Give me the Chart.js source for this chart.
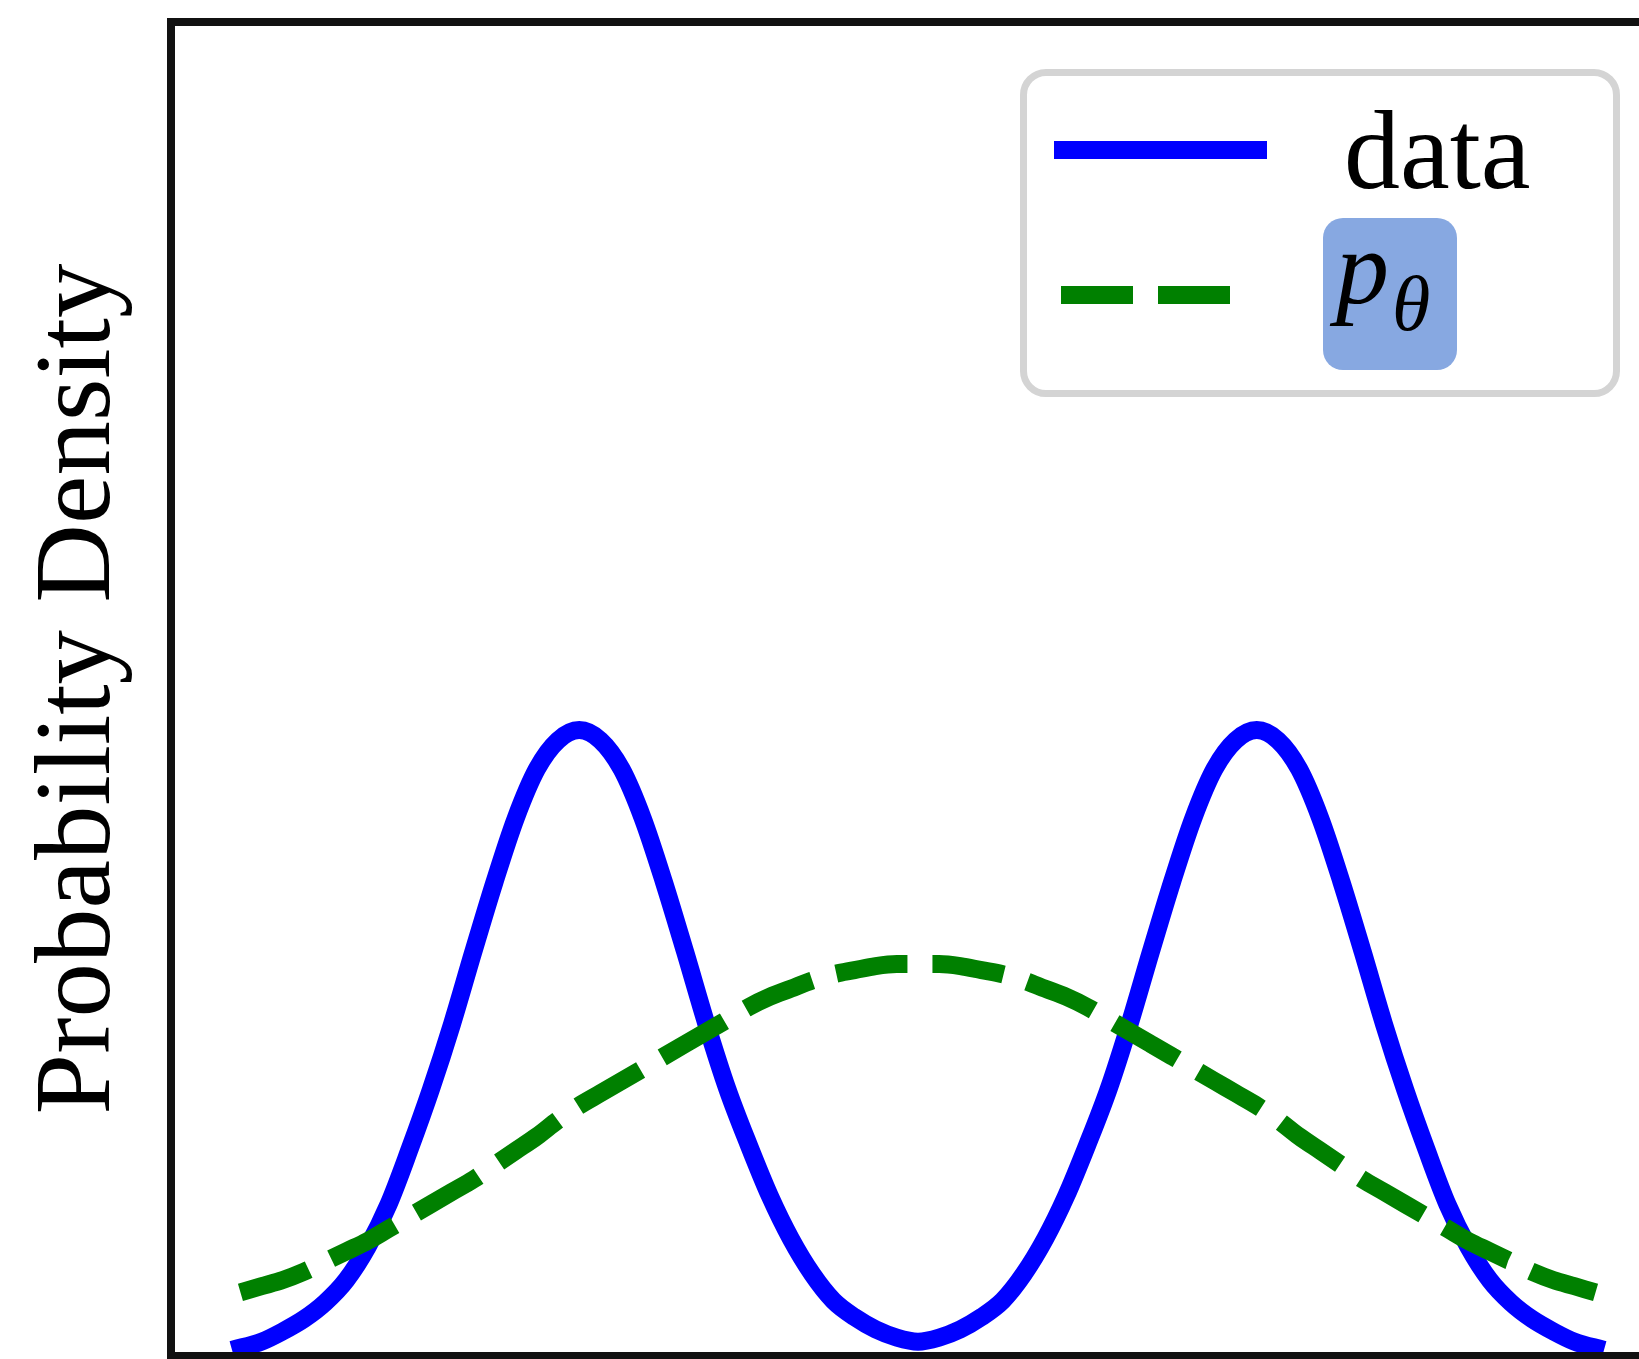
<!DOCTYPE html>
<html>
<head>
<meta charset="utf-8">
<script src="https://cdn.jsdelivr.net/npm/chart.js@4"></script>
<style>
  html, body { margin: 0; padding: 0; background: #fff; overflow: hidden; }
  #wrap { position: relative; width: 1639px; height: 1359px; overflow: hidden; }
  #myChart { position: absolute; left: 0; top: 0; }
  .legend {
    position: absolute; left: 1020px; top: 69px; width: 600px; height: 328px;
    box-sizing: border-box; border: 7px solid #d4d4d4; border-radius: 26px;
    background: #fff; font-family: "Liberation Serif", "DejaVu Serif", serif; color: #000;
  }
  .legend .line { position: absolute; height: 18px; }
  .legend .solid { left: 27px; top: 65px; width: 213px; background: #0000ff; }
  .legend .dash { left: 34px; top: 210px; width: 169px;
    background: repeating-linear-gradient(90deg, #008000 0 72px, transparent 72px 97px); }
  .legend .lbl { position: absolute; left: 317px; top: 18px; font-size: 112px; line-height: 1; }
  .legend .box { position: absolute; left: 296px; top: 142px; width: 134px; height: 152px;
    background: #87a8e1; border-radius: 20px; }
  .legend .p { position: absolute; left: 13px; top: -3px; font-size: 106px; line-height: 1; font-style: italic; }
  .legend .th { position: absolute; left: 69px; top: 47px; font-size: 78px; line-height: 1; font-style: italic; }
</style>
</head>
<body>
<div id="wrap">
  <canvas id="myChart" width="1700" height="1400"></canvas>
  <div class="legend">
    <div class="line solid"></div>
    <div class="lbl">data</div>
    <div class="line dash"></div>
    <div class="box"><span class="p">p</span><span class="th">θ</span></div>
  </div>
</div>
<script>
// sample positions for the dashed p_theta curve
const xs = [-4, -3.875, -3.75, -3.625, -3.5, -3.375, -3.25, -3.125, -3, -2.875, -2.75, -2.625, -2.5, -2.375, -2.25, -2.125,
  -2, -1.875, -1.75, -1.625, -1.5, -1.375, -1.25, -1.125, -1, -0.875, -0.75, -0.625, -0.5, -0.375, -0.25, -0.125,
  0, 0.125, 0.25, 0.375, 0.5, 0.625, 0.75, 0.875, 1, 1.125, 1.25, 1.375, 1.5, 1.625, 1.75, 1.875,
  2, 2.125, 2.25, 2.375, 2.5, 2.625, 2.75, 2.875, 3, 3.125, 3.25, 3.375, 3.5, 3.625, 3.75, 3.875, 4];

// the blue curve runs a little further out at both ends
const xsData = [-4.05, -3.875, -3.75, -3.625, -3.5, -3.375, -3.25, -3.125, -3, -2.875, -2.75, -2.625, -2.5, -2.375, -2.25, -2.125,
  -2, -1.875, -1.75, -1.625, -1.5, -1.375, -1.25, -1.125, -1, -0.875, -0.75, -0.625, -0.5, -0.375, -0.25, -0.125,
  0, 0.125, 0.25, 0.375, 0.5, 0.625, 0.75, 0.875, 1, 1.125, 1.25, 1.375, 1.5, 1.625, 1.75, 1.875,
  2, 2.125, 2.25, 2.375, 2.5, 2.625, 2.75, 2.875, 3, 3.125, 3.25, 3.375, 3.5, 3.625, 3.75, 3.875, 4.05];

// "data" (blue, two bumps)
const dataVals = [0.003, 0.007, 0.012, 0.018, 0.026, 0.037, 0.053, 0.074, 0.101, 0.130, 0.162, 0.197, 0.231, 0.262, 0.286, 0.300,
  0.305, 0.300, 0.286, 0.262, 0.231, 0.197, 0.162, 0.130, 0.103, 0.078, 0.057, 0.040, 0.027, 0.019, 0.013, 0.009,
  0.007, 0.009, 0.013, 0.019, 0.027, 0.040, 0.057, 0.078, 0.103, 0.130, 0.162, 0.197, 0.231, 0.262, 0.286, 0.300,
  0.305, 0.300, 0.286, 0.262, 0.231, 0.197, 0.162, 0.130, 0.101, 0.074, 0.053, 0.037, 0.026, 0.018, 0.012, 0.007, 0.003];

// p_theta (green, dashed)
const pThetaVals = [0.031, 0.034, 0.037, 0.041, 0.046, 0.051, 0.056, 0.062, 0.068, 0.074, 0.080, 0.086, 0.093, 0.100, 0.107, 0.115,
  0.122, 0.128, 0.134, 0.140, 0.146, 0.152, 0.158, 0.164, 0.170, 0.175, 0.179, 0.183, 0.186, 0.188, 0.190, 0.191,
  0.191, 0.191, 0.190, 0.188, 0.186, 0.183, 0.179, 0.175, 0.170, 0.164, 0.158, 0.152, 0.146, 0.140, 0.134, 0.128,
  0.122, 0.115, 0.107, 0.100, 0.093, 0.086, 0.080, 0.074, 0.068, 0.062, 0.056, 0.051, 0.046, 0.041, 0.037, 0.034, 0.031];

const toPoints = (xv, vals) => xv.map((x, i) => ({ x: x, y: vals[i] }));

// axes box around the plot area
const frame = {
  id: "frame",
  afterDatasetsDraw(chart) {
    const { ctx, chartArea } = chart;
    ctx.save();
    ctx.strokeStyle = "#111";
    ctx.lineWidth = 8;
    ctx.strokeRect(chartArea.left, chartArea.top, chartArea.right - chartArea.left, chartArea.bottom - chartArea.top);
    ctx.restore();
  },
};

const config = {
  type: "line",
  data: {
    datasets: [
      {
        label: "data",
        data: toPoints(xsData, dataVals),
        borderColor: "#0000ff",
        borderWidth: 18,
        pointRadius: 0,
        cubicInterpolationMode: "monotone",
        order: 1,
      },
      {
        label: "pθ",
        data: toPoints(xs, pThetaVals),
        borderColor: "#008000",
        borderWidth: 18,
        borderDash: [72, 25],
        pointRadius: 0,
        cubicInterpolationMode: "monotone",
        order: 0,
      },
    ],
  },
  options: {
    responsive: false,
    animation: false,
    devicePixelRatio: 1,
    layout: { padding: { top: 22, right: 35, bottom: 44, left: 0 } },
    scales: {
      x: { type: "linear", min: -4.41, max: 4.41, display: false },
      y: {
        min: 0,
        max: 0.65,
        ticks: { display: false },
        grid: { display: false },
        border: { display: false },
        title: {
          display: true,
          text: "Probability Density",
          color: "#000",
          font: { family: '"Liberation Serif", "DejaVu Serif", serif', size: 109 },
          padding: { top: 15, bottom: 0 },
        },
        afterFit(scale) {
          scale.width = 171;
        },
      },
    },
    plugins: {
      legend: { display: false },
      tooltip: { enabled: false },
    },
  },
  plugins: [frame],
};

const myChart = new Chart(document.getElementById("myChart"), config);
</script>
</body>
</html>
